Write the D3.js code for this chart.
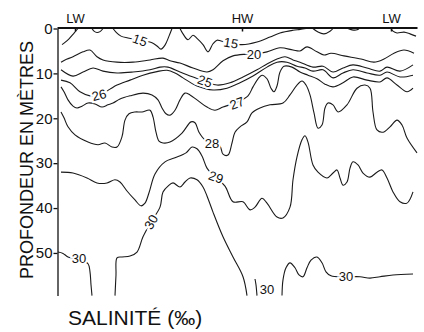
<!DOCTYPE html>
<html>
<head>
<meta charset="utf-8">
<script src="https://cdn.jsdelivr.net/npm/d3@7"></script>
<style>
  body { margin: 0; background: #fff; }
  svg { display: block; }
</style>
</head>
<body>
<div id="chart"></div>
<script>
// x = position along the tidal cycle (arbitrary units), depth in metres
const tideTicks = [18, 185, 334];
const tideLabels = ["LW", "HW", "LW"];
const depthTicks = [0, 10, 20, 30, 40, 50];

// isohalines, each one a list of traced pieces of [x, depth]
const sal15 = [
  [[5, 3.6], [8, 3.1], [12, 2.3], [16, 1.3], [19, 0.5], [21, 0]],
  [[35, 0], [37, 0.6], [40, 0.9], [43, 0.7], [46, 0]],
  [[56, 0], [59, 0.8], [64, 1.7], [71, 2.1], [83, 2.6], [95, 3.2], [100, 3.9], [104, 4.6], [108, 3.7], [112, 1.7], [115, 0]],
  [[123, 0], [126, 1.2], [131, 2.5], [136, 1.5], [140, 2.2], [146, 3.6], [151, 5.2], [156, 3.4], [160, 2.6], [164, 2.8], [171, 3.2],
   [185, 3.6], [200, 3.0], [213, 1.9], [223, 1.0], [236, 0.4], [243, 0.2], [249, 0]],
  [[256, 0], [261, 0.8], [267, 1.2], [273, 0.6], [276, 0]],
  [[291, 0], [295, 0.3], [300, 0.3], [302, 0]],
  [[334, 0], [336, 0.6], [340, 1.0], [347, 0.8], [353, 1.2], [359, 1.7]]
];
const sal20 = [
  [[4, 7.5], [8, 7.0], [16, 6.3], [26, 5.2], [33, 4.8], [40, 6.3], [46, 7.0], [60, 7.5], [76, 7.5], [93, 7.0], [106, 6.6], [113, 7.2],
   [123, 7.7], [136, 8.8], [150, 9.7], [156, 9.2], [166, 7.2], [176, 6.1], [190, 5.7], [203, 5.5], [210, 5.2], [223, 4.3], [236, 4.8],
   [243, 5.0], [250, 4.1], [260, 5.2], [267, 5.9], [274, 5.5], [287, 6.1], [304, 6.8], [317, 7.5], [327, 6.8], [337, 5.5], [347, 4.8], [357, 5.5]]
];
const sal25 = [
  [[4, 9.2], [16, 10.6], [26, 9.7], [36, 8.8], [46, 9.5], [60, 9.9], [76, 9.7], [93, 9.2], [103, 8.6], [111, 8.6], [123, 9.7], [133, 10.6],
   [148, 11.7], [160, 12.6], [173, 12.1], [186, 10.8], [200, 9.2], [210, 7.9], [220, 6.8], [228, 6.3], [236, 7.0], [243, 7.5], [256, 8.6],
   [266, 8.4], [276, 9.7], [286, 8.8], [296, 8.1], [310, 8.8], [323, 9.5], [330, 8.6], [343, 9.5], [356, 8.1]]
];
const sal26 = [
  [[4, 11.5], [13, 12.1], [23, 14.1], [33, 15.0], [43, 14.8], [53, 13.5], [60, 12.6], [73, 11.5], [86, 10.4], [100, 9.6], [110, 9.3],
   [118, 9.9], [126, 11.0], [140, 12.8], [156, 13.7], [170, 13.3], [183, 12.1], [196, 10.6], [210, 8.6], [220, 7.5], [230, 7.5], [240, 8.4],
   [248, 8.8], [256, 9.5], [266, 9.2], [276, 11.0], [286, 9.9], [296, 9.2], [310, 9.9], [323, 10.4], [330, 9.7], [343, 10.8], [356, 10.4]]
];
const sal27 = [
  [[4, 13.0], [7, 14.1], [11, 15.9], [16, 17.3], [20, 17.7], [25, 17.3], [31, 16.6], [38, 16.8], [45, 17.5], [51, 17.0], [56, 16.6],
   [63, 15.7], [73, 15.0], [86, 14.4], [95, 14.8], [101, 15.9], [105, 17.7], [109, 19.0], [113, 19.3], [118, 18.2], [123, 15.9], [128, 14.4],
   [133, 14.8], [140, 15.9], [150, 17.5], [158, 18.2], [166, 17.5], [180, 16.4], [191, 15.0], [196, 13.0], [201, 11.2], [205, 10.4],
   [210, 11.2], [214, 13.3], [217, 14.1], [220, 12.8], [223, 9.7], [227, 8.4], [235, 8.6], [243, 9.7], [251, 10.4], [260, 11.2], [268, 12.4],
   [276, 13.0], [286, 12.1], [296, 10.8], [310, 11.5], [323, 11.9], [330, 11.0], [340, 12.6], [350, 14.1], [356, 13.3]]
];
const sal28 = [
  [[4, 18.6], [7, 19.9], [11, 21.9], [18, 23.7], [31, 25.3], [41, 25.9], [48, 25.5], [55, 26.4], [60, 26.4], [65, 24.1], [68, 20.4],
   [72, 19.0], [78, 18.6], [85, 18.6], [93, 18.2], [96, 19.7], [99, 23.1], [102, 25.1], [106, 25.5], [113, 25.3], [125, 23.3], [134, 20.8],
   [138, 21.0], [142, 23.1], [148, 24.8], [156, 25.5], [163, 26.2], [166, 28.0], [171, 28.2], [175, 25.5], [178, 23.1], [183, 21.9],
   [190, 20.8], [195, 18.8], [203, 17.7], [213, 17.0], [226, 16.6], [233, 14.8], [240, 12.6], [245, 11.7], [249, 12.6], [253, 14.8],
   [257, 18.8], [261, 22.2], [265, 21.5], [268, 17.7], [271, 16.6], [276, 17.0], [281, 18.6], [290, 17.0], [300, 13.3], [308, 12.6],
   [313, 13.3], [316, 18.6], [320, 22.6], [326, 23.1], [333, 21.9], [340, 20.4], [345, 21.5], [350, 24.4], [360, 27.7]]
];
const sal29 = [
  [[4, 32.0], [16, 32.2], [30, 33.3], [40, 34.4], [50, 34.4], [58, 33.7], [63, 34.2], [70, 36.2], [78, 38.2], [84, 39.5], [88, 38.9],
   [92, 36.6], [98, 32.4], [108, 29.7], [118, 28.8], [129, 27.7], [135, 26.4], [140, 26.8], [145, 28.4], [150, 31.1], [158, 33.1],
   [168, 35.1], [176, 38.6], [186, 38.6], [193, 40.4], [198, 39.8], [205, 37.8], [210, 38.9], [220, 42.0], [226, 42.2], [233, 39.8],
   [236, 33.7], [240, 28.6], [245, 24.8], [248, 23.9], [251, 25.3], [256, 30.4], [261, 32.0], [270, 33.3], [276, 32.2], [280, 31.5],
   [283, 33.3], [286, 34.9], [290, 34.2], [293, 31.1], [296, 29.7], [301, 30.4], [306, 32.2], [313, 33.1], [320, 32.0], [325, 31.5],
   [330, 33.3], [336, 36.4], [343, 38.6], [350, 38.9], [356, 36.4]]
];
const sal30 = [
  [[1, 49.8], [6, 50.1], [11, 50.9], [22, 51.5], [31, 52.4], [33, 54.2], [34, 57.1], [35, 59.5]],
  [[58, 59.5], [59, 54.9], [60, 51.1], [65, 50.9], [73, 50.7], [80, 49.8], [86, 46.4], [94, 43.1], [103, 39.8], [106, 36.4], [111, 35.1],
   [116, 34.4], [123, 35.3], [128, 34.2], [133, 33.3], [140, 33.7], [146, 35.3], [150, 37.3], [156, 40.9], [166, 46.4], [176, 50.9],
   [186, 55.3], [190, 59.5]],
  [[198, 55.8], [199, 57.1], [200, 59.5]],
  [[225, 59.5], [226, 56.0], [229, 53.3], [233, 52.2], [238, 53.3], [242, 54.9], [246, 55.3], [250, 53.3], [254, 51.6], [260, 50.9],
   [265, 52.2], [269, 54.2], [274, 55.1], [289, 55.3], [303, 55.3], [313, 55.6], [323, 55.3], [336, 54.9], [356, 54.7]]
];

// contour labels: text, x, depth, rotation
const contourLabels = [
  ["15", 83, 2.6, 20], ["15", 174, 3.2, 10], ["20", 197, 5.7, 0], ["25", 148, 11.7, 20],
  ["26", 42, 14.8, -15], ["27", 180, 16.6, -20], ["28", 155, 25.5, 0], ["29", 159, 33.1, 20],
  ["30", 22, 51.3, 0], ["30", 94, 43.1, -60], ["30", 210, 58.2, 0], ["30", 289, 55.1, 0]
];

const isohalines = [sal15, sal20, sal25, sal26, sal27, sal28, sal29, sal30];

const width = 424, height = 332;
const font = "Liberation Sans, Arial, sans-serif";
const x = d3.scaleLinear().domain([0, 360]).range([57, 417]);
const y = d3.scaleLinear().domain([0, 59.5]).range([28.5, 295.6]);

const svg = d3.select("#chart").append("svg").attr("width", width).attr("height", height);

const line = d3
  .line()
  .x((d) => x(d[0]))
  .y((d) => y(d[1]))
  .curve(d3.curveCatmullRom.alpha(0.5));

svg
  .append("g")
  .selectAll("path")
  .data(isohalines.flat())
  .enter()
  .append("path")
  .attr("d", line)
  .attr("fill", "none")
  .attr("stroke", "#1a1a1a")
  .attr("stroke-width", 1.1);

svg
  .append("g")
  .selectAll("text")
  .data(contourLabels)
  .enter()
  .append("text")
  .attr("transform", (d) => `translate(${x(d[1])},${y(d[2])})rotate(${d[3]})`)
  .attr("text-anchor", "middle")
  .attr("dy", "0.36em")
  .attr("font-family", font)
  .attr("font-size", 13)
  .attr("fill", "#111")
  .attr("stroke", "#fff")
  .attr("stroke-width", 4)
  .attr("paint-order", "stroke")
  .text((d) => d[0]);

// depth axis
const yAxis = svg
  .append("g")
  .attr("transform", `translate(${x(0) + 0.5},0)`)
  .call(d3.axisLeft(y).tickValues(depthTicks).tickSize(4).tickSizeOuter(0).tickPadding(1));
yAxis.select(".domain").attr("stroke", "#111").attr("stroke-width", 1.3);
yAxis.selectAll(".tick line").attr("stroke", "#111").attr("stroke-width", 1.3);
yAxis.selectAll(".tick text").attr("font-family", font).attr("font-size", 15).attr("fill", "#111");

// tide axis along the surface
const xAxis = svg
  .append("g")
  .attr("transform", `translate(0,${y(0) - 1})`)
  .call(d3.axisTop(x).tickValues(tideTicks).tickFormat((d, i) => tideLabels[i]).tickSizeInner(-4).tickSizeOuter(0).tickPadding(5));
xAxis.select(".domain").attr("stroke", "#111").attr("stroke-width", 1.8);
xAxis.selectAll(".tick line").attr("stroke", "#111").attr("stroke-width", 1.5);
xAxis.selectAll(".tick text").attr("font-family", font).attr("font-size", 13).attr("fill", "#111");

svg
  .append("text")
  .attr("transform", `translate(33,160)rotate(-90)`)
  .attr("text-anchor", "middle")
  .attr("font-family", font)
  .attr("font-size", 18)
  .attr("fill", "#111")
  .text("PROFONDEUR EN MÈTRES");

svg
  .append("text")
  .attr("x", 68)
  .attr("y", 325)
  .attr("font-family", font)
  .attr("font-size", 21)
  .attr("fill", "#111")
  .text("SALINITÉ (‰)");
</script>
</body>
</html>
